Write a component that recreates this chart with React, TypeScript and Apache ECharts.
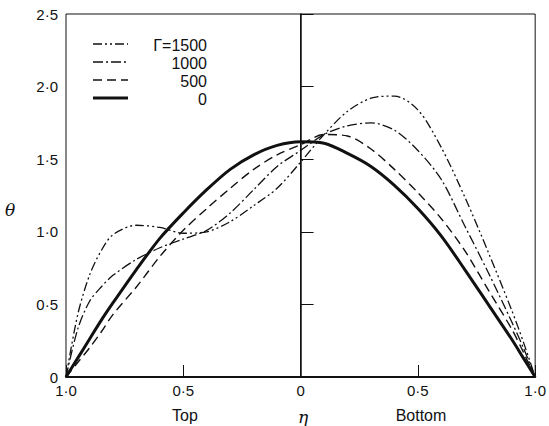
import React, { useEffect, useRef } from "react";
import * as echarts from "echarts";

// η sample points (−1 = top wall, +1 = bottom wall)
const eta = [-1, -0.95, -0.9, -0.85, -0.8, -0.7, -0.6, -0.5, -0.4, -0.3, -0.2, -0.1, 0, 0.1, 0.2, 0.3, 0.4, 0.5, 0.6, 0.7, 0.8, 0.9, 0.95, 1];

// θ values
const theta1500 = [0, 0.43, 0.7, 0.87, 0.98, 1.045, 1.03, 0.99, 1.0, 1.07, 1.18, 1.3, 1.48, 1.67, 1.83, 1.92, 1.935, 1.84, 1.58, 1.24, 0.86, 0.46, 0.24, 0];
const theta1000 = [0, 0.33, 0.52, 0.62, 0.7, 0.81, 0.89, 0.95, 1.01, 1.13, 1.29, 1.45, 1.56, 1.67, 1.73, 1.75, 1.7, 1.56, 1.36, 1.04, 0.72, 0.38, 0.2, 0];
const theta500 = [0, 0.1, 0.2, 0.31, 0.43, 0.62, 0.83, 1.01, 1.16, 1.3, 1.43, 1.53, 1.6, 1.67, 1.66, 1.57, 1.43, 1.27, 1.09, 0.87, 0.6, 0.33, 0.17, 0];
const theta0 = [0, 0.13, 0.26, 0.39, 0.51, 0.74, 0.955, 1.13, 1.29, 1.43, 1.53, 1.595, 1.62, 1.61, 1.54, 1.45, 1.32, 1.16, 0.97, 0.74, 0.5, 0.26, 0.13, 0];

const seriesNames = ["Γ=1500", "1000", "500", "0"];
const seriesValues = [theta1500, theta1000, theta500, theta0];

const xTickValues = [-1, -0.5, 0, 0.5, 1];
const yTickValues = [0, 0.5, 1, 1.5, 2, 2.5];
const regionLabels = ["Top", "Bottom"];

const INK = "#111";
const FONT = "Liberation Sans, Arial, sans-serif";

const lineStyles: any[] = [
  { width: 1.3, type: [9, 3, 2, 3, 2, 3] },
  { width: 1.3, type: [10, 3, 2, 3] },
  { width: 1.4, type: [9, 5] },
  { width: 3, type: "solid" },
];

const fmt = (v: number) => {
  const a = Math.abs(v);
  if (a === 0) return "0";
  return a.toFixed(1).replace(".", "·");
};

export default function App() {
  const ref = useRef<HTMLDivElement>(null);
  useEffect(() => {
    const chart = echarts.init(ref.current!, null, { renderer: "svg" });

    const series: any[] = seriesNames.map((name, i) => ({
      name,
      type: "line",
      data: eta.map((x, j) => [x, seriesValues[i][j]]),
      smooth: 0.3,
      showSymbol: false,
      symbol: "none",
      lineStyle: { color: INK, ...lineStyles[i] },
      z: 3 + i,
    }));
    series[0].markLine = {
      silent: true,
      symbol: "none",
      label: { show: false },
      lineStyle: { color: INK, width: 1, type: "solid" },
      data: [{ xAxis: xTickValues[2] }],
    };

    const legendGraphics: any[] = [];
    const legendY = [44, 62, 80, 98];
    seriesNames.forEach((name, i) => {
      legendGraphics.push({
        type: "line",
        shape: { x1: 93, y1: legendY[i], x2: 128, y2: legendY[i] },
        style: { stroke: INK, lineWidth: lineStyles[i].width, lineDash: Array.isArray(lineStyles[i].type) ? lineStyles[i].type : null },
      });
      legendGraphics.push({
        type: "text",
        x: 207,
        y: legendY[i] + 1,
        style: { text: name, fill: INK, font: `16px ${FONT}`, textAlign: "right", textVerticalAlign: "middle" },
      });
    });

    chart.setOption({
      animation: false,
      backgroundColor: "#fff",
      grid: { left: 66, right: 10, top: 14, bottom: 49, show: true, borderColor: INK, borderWidth: 1 },
      xAxis: {
        type: "value",
        min: xTickValues[0],
        max: xTickValues[xTickValues.length - 1],
        interval: 0.5,
        splitLine: { show: false },
        axisLine: { lineStyle: { color: INK, width: 2 } },
        axisTick: { inside: true, length: 12, lineStyle: { color: INK, width: 1 } },
        axisLabel: { color: INK, fontSize: 15, fontFamily: FONT, margin: 6, formatter: fmt },
      },
      yAxis: {
        type: "value",
        min: yTickValues[0],
        max: yTickValues[yTickValues.length - 1],
        interval: 0.5,
        splitLine: { show: false },
        axisLine: { show: true, lineStyle: { color: INK, width: 1.5 } },
        axisTick: { inside: true, length: 13, lineStyle: { color: INK, width: 1 } },
        axisLabel: { color: INK, fontSize: 15, fontFamily: FONT, margin: 8, formatter: fmt },
      },
      series,
      graphic: [
        ...legendGraphics,
        { type: "text", x: 185, y: 415, style: { text: regionLabels[0], fill: INK, font: `16px ${FONT}`, textAlign: "center", textVerticalAlign: "middle" } },
        { type: "text", x: 421, y: 415, style: { text: regionLabels[1], fill: INK, font: `16px ${FONT}`, textAlign: "center", textVerticalAlign: "middle" } },
        { type: "text", x: 303, y: 417, style: { text: "η", fill: INK, font: `italic 17px DejaVu Serif, serif`, textAlign: "center", textVerticalAlign: "middle" } },
        { type: "text", x: 10, y: 210, style: { text: "θ", fill: INK, font: `italic 17px DejaVu Serif, serif`, textAlign: "center", textVerticalAlign: "middle" } },
      ],
    });
    return () => chart.dispose();
  }, []);
  return <div ref={ref} style={{ position: "absolute", left: 0, top: 0, width: 549, height: 426 }} />;
}
